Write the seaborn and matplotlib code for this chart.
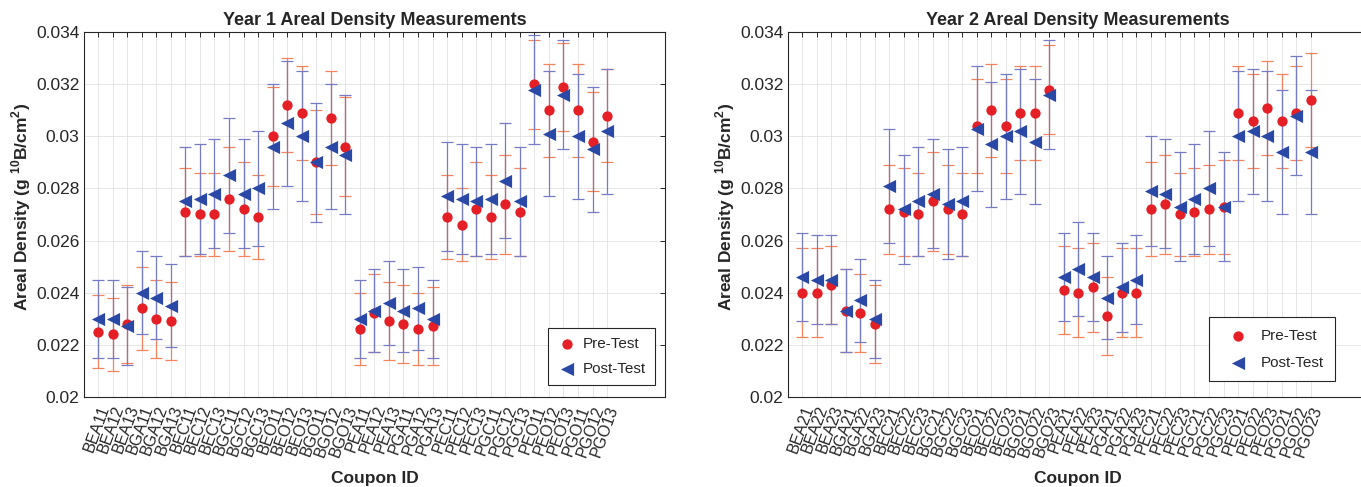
import numpy as np
import pandas as pd
import matplotlib
matplotlib.use('Agg')
import matplotlib.pyplot as plt
import seaborn as sns

# Coupon IDs
coupons_y1 = ['BEA11', 'BEA12', 'BEA13', 'BGA11', 'BGA12', 'BGA13',
              'BEC11', 'BEC12', 'BEC13', 'BGC11', 'BGC12', 'BGC13',
              'BEO11', 'BEO12', 'BEO13', 'BGO11', 'BGO12', 'BGO13',
              'PEA11', 'PEA12', 'PEA13', 'PGA11', 'PGA12', 'PGA13',
              'PEC11', 'PEC12', 'PEC13', 'PGC11', 'PGC12', 'PGC13',
              'PEO11', 'PEO12', 'PEO13', 'PGO11', 'PGO12', 'PGO13']
coupons_y2 = ['BEA21', 'BEA22', 'BEA23', 'BGA21', 'BGA22', 'BGA23',
              'BEC21', 'BEC22', 'BEC23', 'BGC21', 'BGC22', 'BGC23',
              'BEO21', 'BEO22', 'BEO23', 'BGO21', 'BGO22', 'BGO23',
              'PEA21', 'PEA22', 'PEA23', 'PGA21', 'PGA22', 'PGA23',
              'PEC21', 'PEC22', 'PEC23', 'PGC21', 'PGC22', 'PGC23',
              'PEO21', 'PEO22', 'PEO23', 'PGO21', 'PGO22', 'PGO23']

# Year 1 (g 10B/cm2)
pre_y1 = [0.0225, 0.0224, 0.0228, 0.0234, 0.0230, 0.0229,
          0.0271, 0.0270, 0.0270, 0.0276, 0.0272, 0.0269,
          0.0300, 0.0312, 0.0309, 0.0290, 0.0307, 0.0296,
          0.0226, 0.0232, 0.0229, 0.0228, 0.0226, 0.0227,
          0.0269, 0.0266, 0.0272, 0.0269, 0.0274, 0.0271,
          0.0320, 0.0310, 0.0319, 0.0310, 0.0298, 0.0308]
pre_err_y1 = [0.0014, 0.0014, 0.0015, 0.0016, 0.0015, 0.0015,
              0.0017, 0.0016, 0.0016, 0.0020, 0.0018, 0.0016,
              0.0019, 0.0018, 0.0018, 0.0020, 0.0018, 0.0019,
              0.0014, 0.0015, 0.0015, 0.0015, 0.0014, 0.0015,
              0.0016, 0.0014, 0.0018, 0.0016, 0.0019, 0.0017,
              0.0017, 0.0018, 0.0017, 0.0018, 0.0019, 0.0018]
post_y1 = [0.0230, 0.0230, 0.0227, 0.0240, 0.0238, 0.0235,
           0.0275, 0.0276, 0.0278, 0.0285, 0.0278, 0.0280,
           0.0296, 0.0305, 0.0300, 0.0290, 0.0296, 0.0293,
           0.0230, 0.0233, 0.0236, 0.0233, 0.0234, 0.0230,
           0.0277, 0.0276, 0.0275, 0.0276, 0.0283, 0.0275,
           0.0318, 0.0301, 0.0316, 0.0300, 0.0295, 0.0302]
post_err_y1 = [0.0015, 0.0015, 0.0015, 0.0016, 0.0016, 0.0016,
               0.0021, 0.0021, 0.0021, 0.0022, 0.0021, 0.0022,
               0.0024, 0.0024, 0.0025, 0.0023, 0.0024, 0.0023,
               0.0015, 0.0016, 0.0016, 0.0016, 0.0016, 0.0015,
               0.0021, 0.0021, 0.0021, 0.0021, 0.0022, 0.0021,
               0.0021, 0.0024, 0.0021, 0.0024, 0.0024, 0.0024]

# Year 2
pre_y2 = [0.0240, 0.0240, 0.0243, 0.0233, 0.0232, 0.0228,
          0.0272, 0.0271, 0.0270, 0.0275, 0.0272, 0.0270,
          0.0304, 0.0310, 0.0304, 0.0309, 0.0309, 0.0318,
          0.0241, 0.0240, 0.0242, 0.0231, 0.0240, 0.0240,
          0.0272, 0.0274, 0.0270, 0.0271, 0.0272, 0.0273,
          0.0309, 0.0306, 0.0311, 0.0306, 0.0309, 0.0314]
pre_err_y2 = [0.0017, 0.0017, 0.0015, 0.0016, 0.0015, 0.0015,
              0.0017, 0.0017, 0.0016, 0.0019, 0.0017, 0.0016,
              0.0018, 0.0018, 0.0018, 0.0018, 0.0018, 0.0017,
              0.0017, 0.0017, 0.0017, 0.0015, 0.0017, 0.0017,
              0.0018, 0.0019, 0.0016, 0.0017, 0.0017, 0.0018,
              0.0018, 0.0018, 0.0018, 0.0018, 0.0018, 0.0018]
post_y2 = [0.0246, 0.0245, 0.0245, 0.0233, 0.0237, 0.0230,
           0.0281, 0.0272, 0.0275, 0.0278, 0.0274, 0.0275,
           0.0303, 0.0297, 0.0300, 0.0302, 0.0298, 0.0316,
           0.0246, 0.0249, 0.0246, 0.0238, 0.0242, 0.0245,
           0.0279, 0.0278, 0.0273, 0.0276, 0.0280, 0.0273,
           0.0300, 0.0302, 0.0300, 0.0294, 0.0308, 0.0294]
post_err_y2 = [0.0017, 0.0017, 0.0017, 0.0016, 0.0016, 0.0015,
               0.0022, 0.0021, 0.0021, 0.0021, 0.0021, 0.0021,
               0.0024, 0.0024, 0.0024, 0.0024, 0.0024, 0.0021,
               0.0017, 0.0018, 0.0017, 0.0016, 0.0017, 0.0017,
               0.0021, 0.0021, 0.0021, 0.0021, 0.0022, 0.0021,
               0.0025, 0.0024, 0.0025, 0.0024, 0.0023, 0.0024]

ytick_vals = [0.020, 0.022, 0.024, 0.026, 0.028, 0.030, 0.032, 0.034]
ytick_labels = ['0.02', '0.022', '0.024', '0.026', '0.028', '0.03', '0.032', '0.034']

# couleurs
RED = '#e41f26'
BLUE = '#2a48a6'
RED_BAR = '#f2835c'
BLUE_BAR = '#767cc4'
DARK = '#262626'

sns.set_theme(style='whitegrid', rc={
    'axes.edgecolor': DARK,
    'axes.linewidth': 0.8,
    'grid.color': '#e2e2e2',
    'grid.linewidth': 0.6,
    'xtick.direction': 'in',
    'ytick.direction': 'in',
    'xtick.color': DARK,
    'ytick.color': DARK,
    'text.color': DARK,
    'axes.labelcolor': DARK,
})
plt.rcParams['font.family'] = ['Liberation Sans', 'DejaVu Sans']
plt.rcParams['mathtext.fontset'] = 'custom'
plt.rcParams['mathtext.rm'] = 'Liberation Sans:bold'
plt.rcParams['mathtext.bf'] = 'Liberation Sans:bold'


def draw_panel(ax, labels, pre, pre_err, post, post_err, title, leg_kw):
    df = pd.DataFrame({'coupon': labels, 'pre': pre, 'pre_err': pre_err,
                       'post': post, 'post_err': post_err})
    df['pos'] = np.arange(1, len(df) + 1)

    ax.errorbar(df['pos'], df['pre'], yerr=df['pre_err'], fmt='none',
                ecolor=RED_BAR, elinewidth=0.9, capsize=4.2, capthick=0.9, zorder=2)
    ax.errorbar(df['pos'], df['post'], yerr=df['post_err'], fmt='none',
                ecolor=BLUE_BAR, elinewidth=0.9, capsize=4.2, capthick=0.9, zorder=2)
    sns.scatterplot(data=df, x='pos', y='pre', ax=ax, marker='o', s=55,
                    color=RED, linewidth=0, label='Pre-Test', zorder=3)
    sns.scatterplot(data=df, x='pos', y='post', ax=ax, marker='<', s=90,
                    color=BLUE, linewidth=0, label='Post-Test', zorder=4)

    ax.set_xlim(0, 40)
    ax.set_ylim(ytick_vals[0], ytick_vals[-1])
    ax.set_xticks(df['pos'])
    ax.set_xticklabels(df['coupon'], rotation=70, ha='right', va='top',
                       rotation_mode='anchor', fontsize=11.5)
    ax.set_yticks(ytick_vals)
    ax.set_yticklabels(ytick_labels, fontsize=12.5)
    ax.tick_params(axis='both', which='both', top=True, right=True,
                   length=3.5, width=0.7)
    ax.tick_params(axis='x', pad=5)
    ax.tick_params(axis='y', pad=3)
    ax.grid(True, axis='both')
    for sp in ax.spines.values():
        sp.set_visible(True)
        sp.set_color(DARK)

    ax.set_title(title, fontsize=13, fontweight='bold', pad=5)
    ax.set_xlabel('Coupon ID', fontsize=12.5, fontweight='bold')
    ax.xaxis.set_label_coords(0.5, -0.205)
    ax.set_ylabel(r'Areal Density (g $^{10}$B/cm$^{2}$)', fontsize=12.5, fontweight='bold')
    ax.yaxis.set_label_coords(-0.087, 0.52)

    leg = ax.legend(loc='lower right', fontsize=11, frameon=True, fancybox=False,
                    edgecolor=DARK, framealpha=1, **leg_kw)
    leg.get_frame().set_linewidth(0.8)


fig = plt.figure(figsize=(13.61, 4.87), dpi=100)
ax1 = fig.add_axes([0.0614, 0.1854, 0.4274, 0.7483])
ax2 = fig.add_axes([0.5788, 0.1854, 0.4269, 0.7483])

draw_panel(ax1, coupons_y1, pre_y1, pre_err_y1, post_y1, post_err_y1,
           'Year 1 Areal Density Measurements',
           dict(bbox_to_anchor=(0.9825, 0.032), borderpad=0.58, labelspacing=0.76,
                handlelength=1.3, handletextpad=0.4, borderaxespad=0))
draw_panel(ax2, coupons_y2, pre_y2, pre_err_y2, post_y2, post_err_y2,
           'Year 2 Areal Density Measurements',
           dict(bbox_to_anchor=(0.942, 0.043), borderpad=0.75, labelspacing=0.85,
                handlelength=2.2, handletextpad=0.4, borderaxespad=0))

fig.savefig('out.png', dpi=100)
